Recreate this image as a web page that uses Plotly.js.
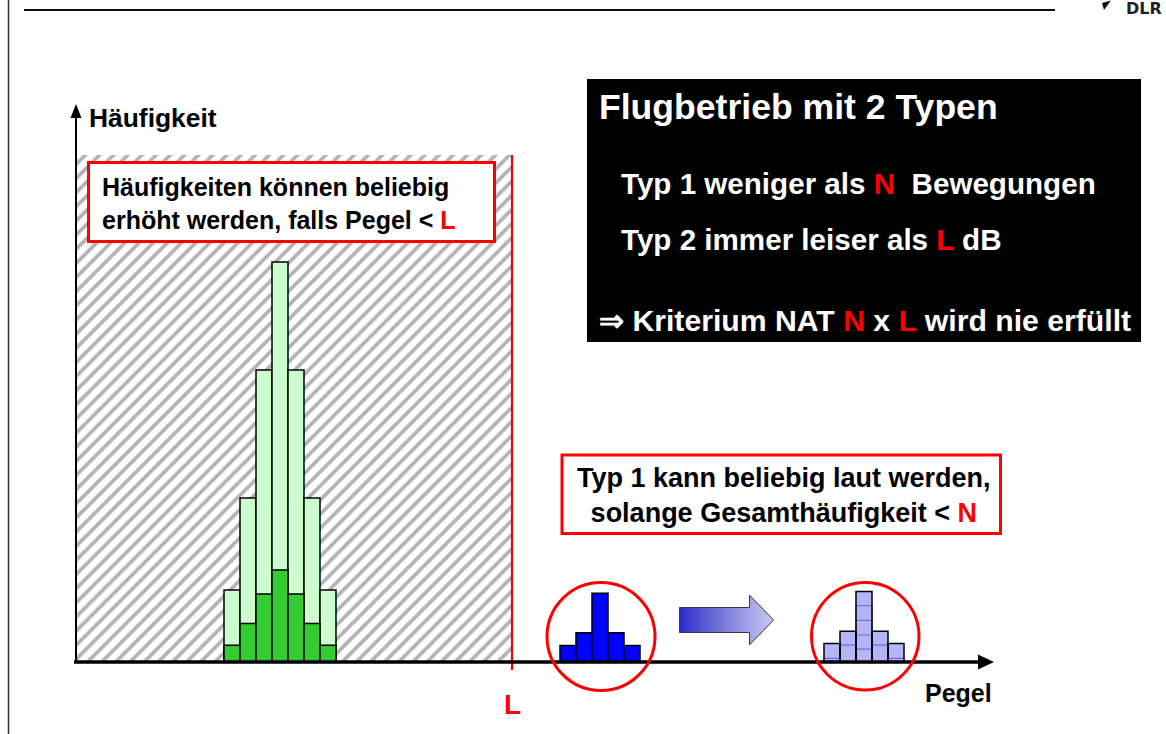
<!DOCTYPE html>
<html><head><meta charset="utf-8">
<script src="https://cdn.plot.ly/plotly-3.0.1.min.js"></script>
<style>html,body{margin:0;padding:0;background:#fff;overflow:hidden}</style>
</head><body><div id="chart" style="width:1166px;height:734px"></div>
<script>
// ---- data (Pegel bins / Häufigkeit) ----
const greenBins   = [10, 11, 12, 13, 14, 15, 16];
const greenTotal  = [18, 41, 73, 100, 73, 41, 18];
const greenType1  = [4.2, 9.6, 17, 23, 17, 9.6, 4.2];
const blueBins    = [31, 32, 33, 34, 35];
const blueValues  = [4.1, 7.3, 17.2, 7.3, 4.1];
const purpleBins  = [47.5, 48.5, 49.5, 50.5, 51.5];
const purpleValues= [4.6, 7.7, 17.6, 7.7, 4.6];
const purpleStep1 = [0.9, 4.2, 3.2, 4.2, 0.9];
const purpleStep2 = [null, null, 6.75, null, null];
const purpleStep3 = [null, null, 10.4, null, null];
const purpleStep4 = [null, null, 14.1, null, null];
const levelL = 27.5;
const hatchLeft = 0.25, hatchTop = 126.75;

// ---- geometry ----
const W = 1166, H = 734;
const XR = [-4.5, 68.375], YR = [-18, 165.5];
const px = v => v / W, py = v => 1 - v / H;
const dx = v => XR[0] + v / W * (XR[1] - XR[0]);
const dy = v => YR[0] + (H - v) / H * (YR[1] - YR[0]);
const FONT = 'Liberation Sans, Arial, sans-serif';
const RED = '#ff0000';

const traces = [];
// hatched region (levels below L)
traces.push({type:'bar', x:[(hatchLeft + levelL) / 2], y:[hatchTop], width:[levelL - hatchLeft],
  marker:{color:'#ffffff', line:{width:0},
    pattern:{shape:'/', fgcolor:'#b3b3b3', bgcolor:'#ffffff', size:10, solidity:0.38}},
  hoverinfo:'skip'});
// green: total and type-1 part
traces.push({type:'bar', x:greenBins, y:greenTotal, width:1,
  marker:{color:'#ccffcc', line:{color:'#000', width:1.5}}, hoverinfo:'skip'});
traces.push({type:'bar', x:greenBins, y:greenType1, width:1,
  marker:{color:'#33cc33', line:{color:'#000', width:1.5}}, hoverinfo:'skip'});
// blue
traces.push({type:'bar', x:blueBins, y:blueValues, width:1,
  marker:{color:'#0000ff', line:{color:'#000', width:1.5}}, hoverinfo:'skip'});
// purple (shifted type 1) with segment lines
traces.push({type:'bar', x:purpleBins, y:purpleValues, width:1,
  marker:{color:'#b5b5f5', line:{width:0}}, hoverinfo:'skip'});
[purpleStep1, purpleStep2, purpleStep3, purpleStep4].forEach(s => {
  traces.push({type:'bar', x:purpleBins, y:s, width:1,
    marker:{color:'rgba(0,0,0,0)', line:{color:'#6a6aff', width:1.2}}, hoverinfo:'skip'});
});
traces.push({type:'bar', x:purpleBins, y:purpleValues, width:1,
  marker:{color:'rgba(0,0,0,0)', line:{color:'#000', width:1.5}}, hoverinfo:'skip'});
// gradient arrow
const arrowPx = [[679.5,607.5],[749.5,607.5],[749.5,595],[773.5,620],[749.5,645],[749.5,632.5],[679.5,632.5],[679.5,607.5]];
traces.push({type:'scatter', mode:'lines', x:arrowPx.map(p => dx(p[0])), y:arrowPx.map(p => dy(p[1])),
  fill:'toself', line:{color:'#3a3a3a', width:1},
  fillgradient:{type:'horizontal', colorscale:[[0,'#2b2bc6'],[0.5,'#8080dc'],[1,'#c9c9f3']]},
  hoverinfo:'skip'});

const shapes = [];
const rectPx = (x0, y0, x1, y1, o) => Object.assign({type:'rect', xref:'paper', yref:'paper',
  x0:px(x0), x1:px(x1), y0:py(y1), y1:py(y0), layer:'above'}, o);
// page decorations
shapes.push({type:'line', xref:'paper', yref:'paper', x0:px(8.5), x1:px(8.5), y0:0, y1:1, line:{color:'#333', width:1.5}, layer:'above'});
shapes.push({type:'line', xref:'paper', yref:'paper', x0:px(24), x1:px(1055), y0:py(10), y1:py(10), line:{color:'#111', width:2}, layer:'above'});
shapes.push({type:'path', xref:'paper', yref:'paper', layer:'above', fillcolor:'#111', line:{width:0},
  path:`M${px(1102)},${py(3)} L${px(1111)},${py(0.5)} L${px(1104)},${py(10)} Z`});
// L line
shapes.push({type:'line', xref:'x', yref:'y', x0:levelL, x1:levelL, y0:-2, y1:hatchTop, line:{color:RED, width:2.2}, layer:'above'});
// axes
shapes.push({type:'line', xref:'paper', yref:'paper', x0:px(74), x1:px(982), y0:py(662), y1:py(662), line:{color:'#000', width:3.5}, layer:'above'});
shapes.push({type:'path', xref:'paper', yref:'paper', layer:'above', fillcolor:'#000', line:{width:0},
  path:`M${px(978)},${py(654.5)} L${px(994)},${py(662)} L${px(978)},${py(669.5)} Z`});
shapes.push({type:'line', xref:'paper', yref:'paper', x0:px(76), x1:px(76), y0:py(663), y1:py(114), line:{color:'#000', width:2}, layer:'above'});
shapes.push({type:'path', xref:'paper', yref:'paper', layer:'above', fillcolor:'#000', line:{width:0},
  path:`M${px(70.5)},${py(118)} L${px(76)},${py(104)} L${px(81.5)},${py(118)} Z`});
// boxes
shapes.push(rectPx(88.5, 162.5, 494.5, 241.5, {fillcolor:'#fff', line:{color:RED, width:3}}));
shapes.push(rectPx(562, 455, 1000.5, 533.5, {fillcolor:'#fff', line:{color:RED, width:3}}));
shapes.push(rectPx(587, 79, 1141, 342, {fillcolor:'#000', line:{width:0}}));
// circles
shapes.push({type:'circle', xref:'paper', yref:'paper', layer:'above', line:{color:RED, width:3},
  x0:px(547), x1:px(655), y0:py(690.5), y1:py(582.5)});
shapes.push({type:'circle', xref:'paper', yref:'paper', layer:'above', line:{color:RED, width:3},
  x0:px(811.5), x1:px(919), y0:py(690), y1:py(582.5)});

const R = t => `<span style="color:${RED}">${t}</span>`;
const ann = (x, y, text, o) => Object.assign({xref:'paper', yref:'paper', x:px(x), y:py(y), text,
  showarrow:false, xanchor:'left', yanchor:'middle',
  font:{family:FONT, size:25, color:'#000', weight:'bold'}}, o);
const white = s => ({family:FONT, size:s, color:'#fff', weight:'bold'});
const annotations = [
  ann(87, 118, 'Häufigkeit', {font:{family:FONT, size:26.4, color:'#000', weight:'bold'}}),
  ann(100, 203, 'Häufigkeiten können beliebig<br>erhöht werden, falls Pegel < ' + R('L'), {align:'left'}),
  ann(784, 495, 'Typ 1 kann beliebig laut werden,<br>solange Gesamthäufigkeit < ' + R('N'),
      {align:'center', xanchor:'center', font:{family:FONT, size:27, color:'#000', weight:'bold'}}),
  ann(597, 107, 'Flugbetrieb mit 2 Typen', {font:white(35.6)}),
  ann(619, 184, 'Typ 1 weniger als ' + R('N') + '  Bewegungen', {font:white(29.6)}),
  ann(619, 240, 'Typ 2 immer leiser als ' + R('L') + ' dB', {font:white(29.6)}),
  ann(597, 320, '⇒ Kriterium NAT ' + R('N') + ' x ' + R('L') + ' wird nie erfüllt', {font:white(30.2)}),
  ann(512, 704, 'L', {xanchor:'center', font:{family:FONT, size:28, color:RED, weight:'bold'}}),
  ann(958, 693, 'Pegel', {xanchor:'center'}),
  ann(1124, 8, 'DLR', {font:{family:'DejaVu Sans, Liberation Sans, sans-serif', size:16, color:'#222', weight:'bold'}})
];

Plotly.newPlot('chart', traces, {
  width:W, height:H, margin:{l:0, r:0, t:0, b:0, pad:0},
  paper_bgcolor:'#fff', plot_bgcolor:'#fff',
  barmode:'overlay', showlegend:false, hovermode:false,
  xaxis:{range:XR, visible:false, fixedrange:true},
  yaxis:{range:YR, visible:false, fixedrange:true},
  shapes, annotations
}, {displayModeBar:false, staticPlot:true});
</script></body></html>
